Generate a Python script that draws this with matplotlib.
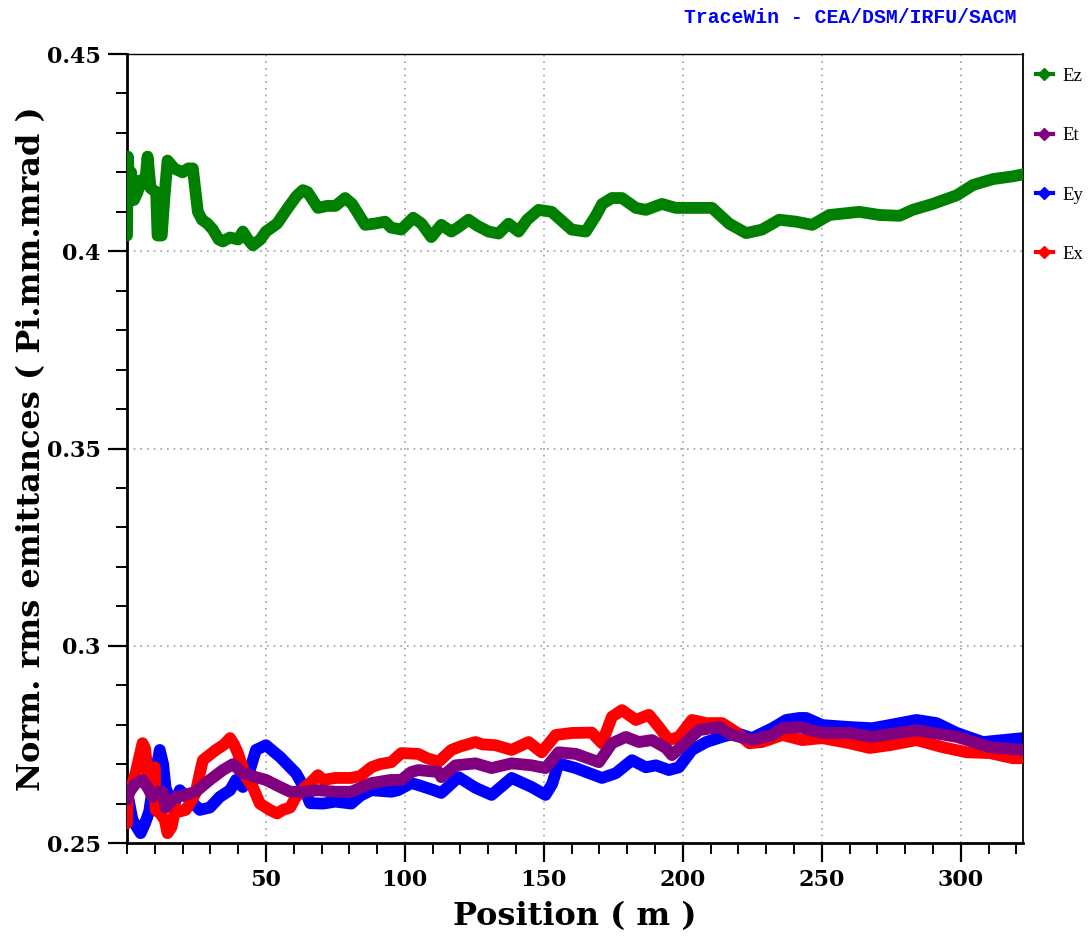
import numpy as np
import matplotlib
matplotlib.use("Agg")
import matplotlib.pyplot as plt
from matplotlib.lines import Line2D
from matplotlib.ticker import MultipleLocator, FormatStrFormatter

# emittance along the linac
ez_x = [0, 0.3, 0.8, 1.5, 2.5, 3.8, 5, 6.5, 7.4, 8.5, 10.5, 11.0, 12.5, 13.5, 14.6, 17, 20, 22, 23.7,
        25.5, 27, 29, 30.9, 33, 34.5, 37, 40, 41.7, 43.5, 45.3, 48, 50, 54, 57.9, 61, 63.3, 65, 68.7,
        72, 75, 78.5, 81, 85.7, 89, 92.9, 95, 98.7, 103, 106, 109.5, 113.1, 116.7, 119, 122.9, 126,
        130.1, 133.7, 137.3, 140.9, 144, 148.1, 152.8, 156, 160, 165.1, 168.7, 171, 174.5, 178.1,
        183.1, 186.7, 192.5, 197.5, 204.8, 210.5, 216.7, 222.8, 228.5, 234.7, 240.8, 246.6, 252.7,
        263.5, 270.8, 278, 282.7, 289.9, 298.6, 304.4, 311.6, 318.8, 322.4]
ez_y = [0.404, 0.424, 0.417, 0.420, 0.413, 0.415, 0.418, 0.417, 0.424, 0.416, 0.415, 0.404, 0.404,
        0.414, 0.423, 0.421, 0.420, 0.421, 0.421, 0.410, 0.408, 0.407, 0.4055, 0.403, 0.4025, 0.4035,
        0.403, 0.405, 0.403, 0.4015, 0.403, 0.405, 0.407, 0.411, 0.414, 0.4155, 0.415, 0.411, 0.4115,
        0.4115, 0.4135, 0.412, 0.4067, 0.407, 0.4075, 0.406, 0.4055, 0.4085, 0.407, 0.4036, 0.4067,
        0.405, 0.406, 0.408, 0.4065, 0.405, 0.4045, 0.407, 0.405, 0.408, 0.4105, 0.410, 0.408,
        0.4055, 0.405, 0.409, 0.412, 0.4135, 0.4135, 0.411, 0.4105, 0.412, 0.411, 0.411, 0.411,
        0.407, 0.4046, 0.4055, 0.408, 0.4075, 0.4067, 0.4092, 0.410, 0.4092, 0.409, 0.4105, 0.412,
        0.4142, 0.4168, 0.4183, 0.419, 0.4195]

ex_x = [0, 0.3, 1.5, 3.1, 4.5, 5.6, 6.5, 7.4, 9, 10.0, 10.3, 12, 13.6, 14.6, 16, 17.5, 19, 21.1,
        22.6, 24.7, 26, 27.3, 30, 32.0, 35, 37.1, 38.5, 39.9, 42.8, 45.3, 47.8, 51.4, 54, 56.1, 58.7,
        60.8, 64.1, 65.9, 68.7, 70.6, 75, 80.7, 84, 87.9, 91, 95.1, 98.7, 104.8, 108, 112.1, 116.7,
        120, 125.4, 128, 132.6, 138.4, 144.5, 149.2, 154.3, 160.0, 167.2, 170.9, 174.5, 178.1,
        183.1, 187.8, 191.4, 195.0, 198.6, 203.3, 208.4, 214.1, 219.2, 223.9, 228.5, 235.8, 243,
        250.2, 260.0, 267.2, 274.4, 284.1, 293.5, 302.2, 310.5, 318.8, 322.4]
ex_y = [0.255, 0.262, 0.264, 0.2677, 0.272, 0.2753, 0.274, 0.268, 0.268, 0.2692, 0.2584, 0.2575,
        0.2558, 0.2525, 0.254, 0.259, 0.258, 0.2584, 0.260, 0.2627, 0.267, 0.271, 0.2725, 0.2736,
        0.275, 0.2766, 0.275, 0.2728, 0.2667, 0.2642, 0.260, 0.2584, 0.2575, 0.2584, 0.259, 0.2617,
        0.2642, 0.2652, 0.2672, 0.266, 0.2665, 0.2665, 0.267, 0.2692, 0.270, 0.2705, 0.2728, 0.2726,
        0.2715, 0.2706, 0.2736, 0.2745, 0.2756, 0.275, 0.2748, 0.2736, 0.2756, 0.273, 0.2774,
        0.2779, 0.278, 0.2753, 0.282, 0.2837, 0.2812, 0.2825, 0.2794, 0.2761, 0.2769, 0.2812,
        0.2804, 0.2804, 0.2781, 0.2753, 0.2756, 0.2774, 0.2761, 0.2766, 0.2753, 0.2741, 0.2748,
        0.2761, 0.2743, 0.273, 0.2728, 0.2715, 0.2715]

ey_x = [0, 0.3, 2.0, 4.9, 6.5, 8, 9.5, 11.8, 13.0, 13.9, 16.5, 19.0, 22.6, 26.2, 29.8, 33.4, 37.1,
        39.2, 41.7, 44.2, 46.4, 50.0, 55.1, 60.8, 63, 65.9, 70.6, 75, 80.7, 84, 87.9, 95.1, 97.6,
        102.3, 104.8, 110, 113.1, 119.3, 125.4, 131.2, 138.4, 145.6, 150.6, 153, 155.3, 161.5, 170.9,
        175.9, 181.7, 186.7, 190.3, 195.0, 198.6, 203.3, 208.4, 214.1, 219.2, 224.9, 232.2, 237.2,
        241.9, 244.4, 250.2, 260, 268.2, 274.4, 284.1, 291.3, 298.6, 308.0, 315.2, 322.4]
ey_y = [0.264, 0.262, 0.2558, 0.2525, 0.255, 0.258, 0.265, 0.2736, 0.270, 0.264, 0.259, 0.2634,
        0.261, 0.2584, 0.259, 0.2617, 0.2634, 0.266, 0.2642, 0.2685, 0.2736, 0.2748, 0.2718, 0.2677,
        0.265, 0.2601, 0.260, 0.2605, 0.260, 0.262, 0.2634, 0.263, 0.2634, 0.2652, 0.2647, 0.2635,
        0.2627, 0.2667, 0.264, 0.2622, 0.2665, 0.2642, 0.2622, 0.265, 0.2702, 0.269, 0.2665, 0.2677,
        0.271, 0.2692, 0.2697, 0.2685, 0.2692, 0.2736, 0.2756, 0.2769, 0.2779, 0.2766, 0.2791,
        0.2812, 0.2817, 0.2817, 0.2799, 0.2794, 0.2791, 0.2799, 0.2812, 0.2804, 0.2779, 0.2756,
        0.2761, 0.2766]

et_x = [0, 0.9, 3, 5.6, 7.5, 9.2, 11, 12.8, 13.9, 17.5, 20, 24.7, 29.8, 34.5, 38.1, 41.7, 46.4,
        50.0, 55.1, 58.7, 63.3, 68.7, 75, 80.7, 87.9, 95, 98.7, 102.3, 104.8, 112.1, 113.1, 118.2,
        125.4, 131.2, 138.4, 145.6, 150.6, 155.3, 161.5, 169.8, 174.5, 179.5, 184.2, 188.9, 193.9,
        196.1, 201.2, 205.8, 213.1, 217.7, 224.9, 232.2, 235.8, 241.9, 250, 260, 268.2, 284.1,
        298.6, 310.5, 322.4]
et_y = [0.261, 0.263, 0.265, 0.266, 0.264, 0.2617, 0.263, 0.263, 0.259, 0.2617, 0.262, 0.263,
        0.266, 0.2685, 0.270, 0.2677, 0.2667, 0.266, 0.2642, 0.263, 0.263, 0.2634, 0.263, 0.263,
        0.2652, 0.266, 0.266, 0.268, 0.2685, 0.268, 0.2667, 0.2697, 0.2702, 0.269, 0.2702, 0.2697,
        0.269, 0.273, 0.2726, 0.2705, 0.2753, 0.2769, 0.2756, 0.2761, 0.2741, 0.2723, 0.2756,
        0.2786, 0.2794, 0.2774, 0.2761, 0.2774, 0.2791, 0.2794, 0.2779, 0.2779, 0.2769, 0.2786,
        0.2769, 0.2743, 0.2736]

series = [("Ez", ez_x, ez_y, "#008000"),
          ("Et", et_x, et_y, "#800080"),
          ("Ey", ey_x, ey_y, "#0000ff"),
          ("Ex", ex_x, ex_y, "#ff0000")]

serif = "DejaVu Serif"

fig = plt.figure(figsize=(10.9, 9.43), dpi=100)
ax = fig.add_axes([0.1165, 0.106, 0.822, 0.8367])

# blue underneath, then red, then purple, green on its own
zorders = {"Ez": 3, "Et": 4, "Ey": 2, "Ex": 3}
for name, xs, ys, col in series:
    ax.plot(xs, ys, color=col, lw=8.5, solid_joinstyle="round",
            solid_capstyle="round", zorder=zorders[name])

ax.set_xlim(0, 322.4)
ax.set_ylim(0.25, 0.45)
ax.xaxis.set_major_locator(MultipleLocator(50))
ax.xaxis.set_minor_locator(MultipleLocator(10))
ax.yaxis.set_major_locator(MultipleLocator(0.05))
ax.yaxis.set_minor_locator(MultipleLocator(0.01))
ax.yaxis.set_major_formatter(FormatStrFormatter("%g"))
ax.set_xticks([50, 100, 150, 200, 250, 300])

ax.grid(True, which="major", color="#a0a0a0", linestyle=(0, (1, 3)), lw=1.2)
ax.tick_params(which="major", direction="out", length=14, width=1.6, pad=5,
               labelsize=16)
ax.tick_params(which="minor", direction="out", length=8, width=1.4)
ax.tick_params(axis="y", which="both", right=False)
ax.tick_params(axis="x", which="both", top=False)
for lab in ax.get_xticklabels() + ax.get_yticklabels():
    lab.set_fontfamily(serif)
    lab.set_fontweight("bold")

ax.spines["left"].set_linewidth(2.0)
ax.spines["bottom"].set_linewidth(2.0)
ax.spines["right"].set_linewidth(1.3)
ax.spines["top"].set_linewidth(1.0)

ax.set_xlabel("Position ( m )", fontsize=23, fontfamily=serif, fontweight="bold",
              labelpad=7)
ax.set_ylabel("Norm. rms emittances ( Pi.mm.mrad )", fontsize=23, fontfamily=serif,
              fontweight="bold", labelpad=0)

fig.text(0.933, 0.981, "TraceWin - CEA/DSM/IRFU/SACM", color="#0000ff",
         fontsize=14.2, fontfamily="Liberation Mono", fontweight="bold",
         ha="right", va="center")

handles = [Line2D([], [], color=col, lw=3, marker="D", markersize=6)
           for _, _, _, col in series]
fig.legend(handles, [s[0] for s in series], loc="upper left",
           bbox_to_anchor=(0.940, 0.94), frameon=False, handlelength=0.9,
           handletextpad=0.5, labelspacing=2.25, borderpad=0.1,
           prop={"family": "Liberation Serif", "size": 13.5})

fig.savefig("out.png", dpi=100)
